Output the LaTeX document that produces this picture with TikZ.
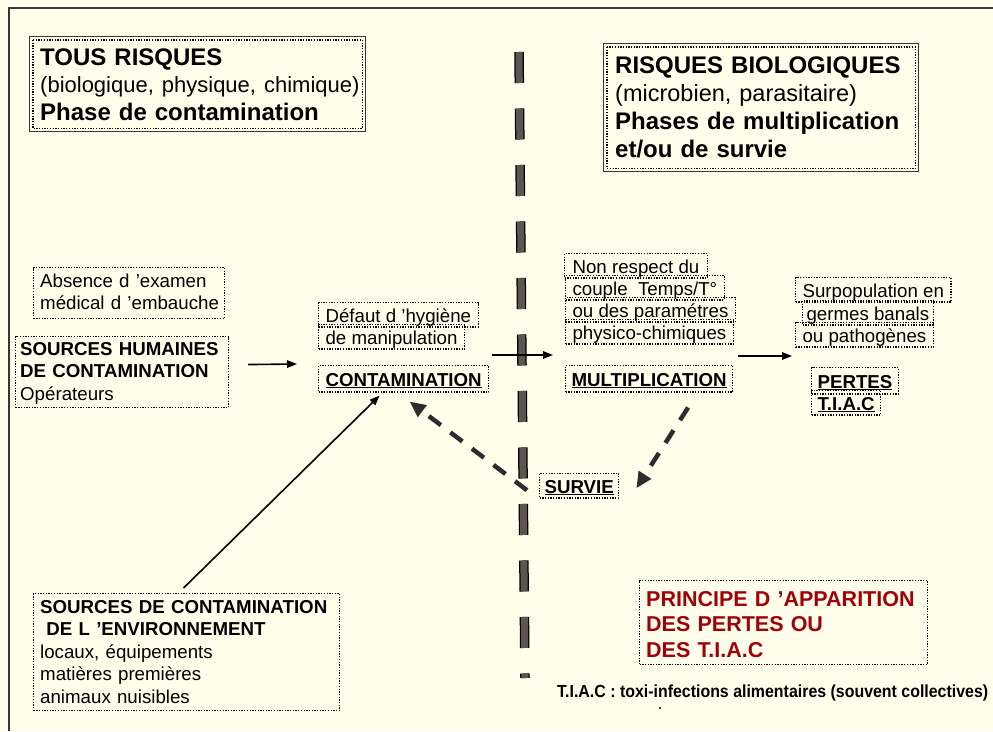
\documentclass[tikz,border=0pt]{standalone}
\usepackage{fontspec}
\setmainfont{Liberation Sans}
\usetikzlibrary{arrows.meta}
\definecolor{paper}{RGB}{255,254,235}
\definecolor{framegray}{RGB}{55,55,55}
\definecolor{cutgray}{RGB}{92,86,78}
\definecolor{arrgray}{RGB}{45,45,45}
\definecolor{tiacred}{RGB}{160,0,10}

\begin{document}
\begin{tikzpicture}[x=1pt, y=-1pt,
  dotbox/.style={draw, line width=1.1pt, dash pattern=on 1.3pt off 1.4pt},
  dblbox/.style={draw=framegray, line width=1.4pt, anchor=north west, inner sep=0pt},
  areabox/.style={dotbox, anchor=north west, inner sep=0pt},
  linebox/.style={dotbox, anchor=base west, inner xsep=7pt, inner ysep=3.5pt, text height=16pt, text depth=1.5pt, font=\fontsize{18.7}{22}\selectfont},
  txt/.style={anchor=base west, inner sep=0pt, align=left},
  small/.style={font=\fontsize{18.7}{22.5}\selectfont},
  arr/.style={-{Triangle[length=10pt,width=7.5pt]}, line width=1.6pt},
  darr/.style={-{Triangle[length=16pt,width=14pt]}, line width=4.5pt, arrgray, dash pattern=on 15pt off 12pt},
]
% page, frame
\fill[paper] (0,0) rectangle (993,731);
\useasboundingbox (0,0) rectangle (993,731);
\draw[framegray, line width=1.6pt] (9,731) -- (9,8) -- (993,8);

% separation between the two phases
\draw[black, line width=9.5pt, dash pattern=on 31pt off 25.5pt] (519,52) -- (525,678);
\draw[cutgray, line width=7pt, dash pattern=on 31pt off 25.5pt] (519,52) -- (525,678);

% headers (double frame)
\node[dblbox, minimum width=336pt, minimum height=95pt] (tousbox) at (29,36) {};
\draw[dotbox] ([shift={(4pt,-4pt)}]tousbox.north west) rectangle ([shift={(-4pt,4pt)}]tousbox.south east);
\node[txt, text width=320pt, font=\fontsize{24}{27.5}\selectfont\bfseries] (tous) at (40,65)
  {TOUS RISQUES\\{\mdseries\fontsize{22}{27.5}\selectfont (biologique, physique, chimique)}\\Phase de contamination};

\node[dblbox, minimum width=315pt, minimum height=128pt] (biobox) at (603,43) {};
\draw[dotbox] ([shift={(4pt,-4pt)}]biobox.north west) rectangle ([shift={(-4pt,4pt)}]biobox.south east);
\node[txt, text width=300pt, font=\fontsize{24}{28}\selectfont\bfseries] (bio) at (615,73)
  {RISQUES BIOLOGIQUES\\{\mdseries\fontsize{23.5}{28}\selectfont (microbien, parasitaire)}\\Phases de multiplication\\et/ou de survie};

% sources
\node[areabox, minimum width=191pt, minimum height=51pt] (absbox) at (33,267) {};
\node[txt, small, text width=185pt] (abs) at (40,287) {Absence d ’examen\\médical d ’embauche};

\node[areabox, minimum width=213pt, minimum height=71pt] (shbox) at (15,336) {};
\node[txt, small, text width=205pt] (sh) at (20,355) {\textbf{SOURCES HUMAINES}\\\textbf{DE CONTAMINATION}\\Opérateurs};

\node[areabox, minimum width=306pt, minimum height=117pt] (envbox) at (33,593) {};
\node[txt, small, text width=300pt] (env) at (40,613)
  {\textbf{SOURCES DE CONTAMINATION}\\\textbf{\ DE L ’ENVIRONNEMENT}\\locaux, équipements\\matières premières\\animaux nuisibles};

% contamination
\node[linebox] (def1) at (318,322) {Défaut d ’hygiène};
\node[linebox] (def2) at (318,344) {de manipulation};
\node[linebox, inner ysep=4.5pt] (contam) at (318,386) {\textbf{\underline{CONTAMINATION}}};

% multiplication
\node[linebox, inner xsep=8pt] (nr1) at (564,273) {Non respect du};
\node[linebox] (nr2) at (565,295) {couple~ Temps/T°};
\node[linebox] (nr3) at (565,317) {ou des paramétres};
\node[linebox] (nr4) at (565,339) {physico-chimiques};
\node[linebox, inner xsep=6pt, inner ysep=4.5pt] (mult) at (565,386) {\textbf{\underline{MULTIPLICATION}}};

% pertes
\node[linebox] (sp1) at (795,297) {Surpopulation en};
\node[linebox, inner xsep=4pt] (sp2) at (802,320) {germes banals};
\node[linebox] (sp3) at (795,342) {ou pathogènes};
\node[linebox, inner xsep=6pt, inner ysep=4.5pt] (pertes) at (811,388) {\textbf{\underline{PERTES}}};
\node[linebox, inner xsep=6pt] (tiac) at (811,410) {\textbf{\underline{T.I.A.C}}};

% survie
\node[linebox, inner xsep=5pt] (survie) at (539,493) {\textbf{\underline{SURVIE}}};

% connectors
\draw[arr] ([shift={(19pt,7.5pt)}]shbox.east) -- ([shift={(-21pt,14.75pt)}]contam.west);
\draw[arr] ([shift={(3pt,23.75pt)}]contam.east) -- ([shift={(-12pt,23.75pt)}]mult.west);
\draw[arr] ([shift={(5pt,22.75pt)}]mult.east) -- ([shift={(-19pt,24.75pt)}]pertes.west);
\draw[arr] ([shift={(-3pt,5pt)}]envbox.north) -- ([shift={(-24pt,-3pt)}]contam.south);
\draw[darr] ([shift={(39pt,-15pt)}]mult.south) -- ([shift={(17pt,-2.5pt)}]survie.east);
\draw[darr] ([shift={(-12pt,-4.5pt)}]survie.west) -- ([shift={(6pt,-9pt)}]contam.south);

% principe
\node[areabox, minimum width=288pt, minimum height=84pt] (prinbox) at (639,580) {};
\node[txt, text width=280pt, text=tiacred, font=\fontsize{21.5}{25.5}\selectfont\bfseries] (prin) at (646,606)
  {PRINCIPE D ’APPARITION\\DES PERTES OU\\DES T.I.A.C};

% footnote
\node[txt, font=\fontsize{17.5}{20}\selectfont\bfseries] (note) at (557,697)
  {\scalebox{0.91}[1]{T.I.A.C : toxi-infections alimentaires (souvent collectives)}};
\fill (660,708) circle (1.2pt);
\end{tikzpicture}
\end{document}
